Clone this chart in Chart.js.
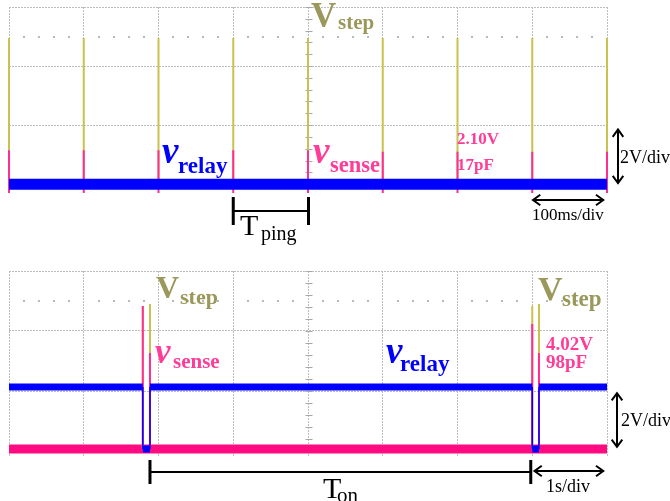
<!DOCTYPE html>
<html>
<head>
<meta charset="utf-8">
<script src="https://cdn.jsdelivr.net/npm/chart.js@4.4.1/dist/chart.umd.min.js"></script>
<style>
html, body { margin: 0; padding: 0; background: #fff; }
#wrap { position: relative; width: 670px; height: 501px; overflow: hidden; font-family: "Liberation Serif", "Times New Roman", serif; }
canvas { position: absolute; left: 0; }
.t { position: absolute; white-space: nowrap; line-height: 1; }
</style>
</head>
<body>
<div id="wrap">
  <canvas id="scopePing" width="670" height="250" style="top:0"></canvas>
  <canvas id="scopeOn" width="670" height="251" style="top:250px"></canvas>
</div>
<script>
// upper trace: 100 ms/div, 2 V/div
const pingTimes = [0, 100, 200, 300, 400, 500, 600, 700, 800];          // ms
const pingStepPeak = [4.95, 4.95, 4.95, 4.95, 4.95, 4.95, 4.95, 4.95, 4.95]; // V
const pingSensePeak = [1.15, 1.15, 1.15, 1.15, 1.15, 1.1, 1.1, 1.1, 1.1];   // V
const pingRelayLevel = 0;
const pingReadout = ['2.10V', '17pF'];

// lower trace: 1 s/div, 2 V/div
const onTimes = [1.79, 1.886, 7.0, 7.09];       // s
const onStepPeak = [4.83, 4.9, 4.83, 4.9];      // V
const onSensePeak = [4.83, 3.27, 4.23, 3.27];   // V
const onRelayHigh = 2.13;
const onRelayLow = 0.07;
const onSenseBase = 0.07;
const onReadout = ['4.02V', '98pF'];

const BLUE = '#0000ff';
const PINK = '#ff2e93';
const PINK_TXT = '#ff3c98';
const YEL = '#c9c24e';
const OLIVE = '#9a985a';

function spikes(times, peaks, base) {
  const out = [];
  times.forEach((t, i) => {
    out.push({ x: t, y: base }, { x: t, y: peaks[i] }, { x: t, y: null });
  });
  return out;
}

function relayBand(times, hi, lo, end) {
  const edges = [0, ...times, end];
  const out = [];
  for (let i = 0; i < edges.length - 1; i++) {
    const lvl = i % 2 === 0 ? hi : lo;
    out.push({ x: edges[i], y: lvl }, { x: edges[i + 1], y: lvl }, { x: edges[i + 1], y: null });
  }
  return out;
}

function line(ds) {
  return Object.assign({ showLine: true, pointRadius: 0, borderCapStyle: 'butt', spanGaps: false, fill: false, clip: 4 }, ds);
}

function arrowHead(ctx, x, y, dx, dy) {
  const len = 9, ang = Math.PI / 5, a = Math.atan2(dy, dx);
  ctx.beginPath();
  ctx.moveTo(x - len * Math.cos(a - ang), y - len * Math.sin(a - ang));
  ctx.lineTo(x, y);
  ctx.lineTo(x - len * Math.cos(a + ang), y - len * Math.sin(a + ang));
  ctx.stroke();
}

function dblArrow(ctx, x1, y1, x2, y2) {
  ctx.beginPath();
  ctx.moveTo(x1, y1);
  ctx.lineTo(x2, y2);
  ctx.stroke();
  arrowHead(ctx, x1, y1, x1 - x2, y1 - y2);
  arrowHead(ctx, x2, y2, x2 - x1, y2 - y1);
}

function bracket(ctx, x1, x2, y, half) {
  ctx.lineWidth = 3;
  ctx.beginPath();
  ctx.moveTo(x1, y - half); ctx.lineTo(x1, y + half);
  ctx.moveTo(x2, y - half); ctx.lineTo(x2, y + half);
  ctx.stroke();
  ctx.lineWidth = 2;
  ctx.beginPath();
  ctx.moveTo(x1, y); ctx.lineTo(x2, y);
  ctx.stroke();
}

// graticule extras: minor ticks on centre line and dotted row at 5 V
const graticule = {
  id: 'graticule',
  beforeDatasetsDraw(chart) {
    const { ctx, chartArea: a, scales: { x, y } } = chart;
    ctx.save();
    const cx = Math.round(x.getPixelForValue((x.min + x.max) / 2)) + 0.5;
    ctx.strokeStyle = '#a8a8a8';
    ctx.lineWidth = 1;
    ctx.beginPath();
    for (let v = y.max; v > y.min; v -= 0.4) {
      const py = Math.round(y.getPixelForValue(v)) + 0.5;
      ctx.moveTo(cx - 3, py); ctx.lineTo(cx + 4, py);
    }
    ctx.stroke();
    ctx.fillStyle = '#b8b8b8';
    const dy = Math.round(y.getPixelForValue(5));
    for (let i = 1; i < 40; i++) {
      if (i % 5 === 0) continue;
      const px = a.left + i * (a.right - a.left) / 40;
      ctx.fillRect(Math.round(px) - 1, dy - 1, 2, 2);
    }
    ctx.restore();
  }
};

function scopeOptions(xMax, yMin, pad) {
  return {
    responsive: false,
    animation: false,
    events: [],
    layout: { padding: pad },
    plugins: { legend: { display: false }, tooltip: { enabled: false } },
    scales: {
      x: {
        type: 'linear', min: 0, max: xMax,
        ticks: { display: false, stepSize: xMax / 8 },
        grid: { color: '#bdbdbd', lineWidth: 1, drawTicks: false },
        border: { display: false, dash: [2, 1] },
        afterFit(s) { s.height = 0; }
      },
      y: {
        type: 'linear', min: yMin, max: 6,
        ticks: { display: false, stepSize: 2, includeBounds: false },
        grid: { color: '#bdbdbd', lineWidth: 1, drawTicks: false },
        border: { display: false, dash: [2, 1] },
        afterFit(s) { s.width = 0; }
      }
    }
  };
}

// upper scope
const pingDecor = {
  id: 'pingDecor',
  afterDraw(chart) {
    const { ctx, chartArea: a, scales: { x, y } } = chart;
    ctx.save();
    ctx.strokeStyle = '#000';
    ctx.lineWidth = 2;
    dblArrow(ctx, a.right + 11, y.getPixelForValue(1.85), a.right + 11, y.getPixelForValue(0) - 1);
    dblArrow(ctx, x.getPixelForValue(701), a.bottom + 7, x.getPixelForValue(795), a.bottom + 7);
    bracket(ctx, x.getPixelForValue(300), x.getPixelForValue(400) + 0.5, a.bottom + 18, 14);
    ctx.restore();
  }
};

new Chart(document.getElementById('scopePing'), {
  type: 'scatter',
  data: {
    datasets: [
      line({ label: 'v_relay', data: [{ x: 0, y: pingRelayLevel }, { x: 800, y: pingRelayLevel }], borderColor: BLUE, borderWidth: 11 }),
      line({ label: 'v_sense', data: spikes(pingTimes, pingSensePeak, -0.3), borderColor: PINK, borderWidth: 2 }),
      line({ label: 'V_step', data: spikes(pingTimes, pingStepPeak, 0), borderColor: YEL, borderWidth: 2 })
    ]
  },
  options: scopeOptions(800, -0.3, { left: 9, right: 63, top: 7, bottom: 57 }),
  plugins: [graticule, pingDecor]
});

// lower scope
const onDecor = {
  id: 'onDecor',
  afterDraw(chart) {
    const { ctx, chartArea: a, scales: { x, y } } = chart;
    ctx.save();
    ctx.strokeStyle = '#000';
    ctx.lineWidth = 2;
    dblArrow(ctx, a.right + 10, y.getPixelForValue(onRelayHigh) + 6, a.right + 10, y.getPixelForValue(onSenseBase) - 2);
    dblArrow(ctx, x.getPixelForValue(7.03), a.bottom + 14, x.getPixelForValue(7.95), a.bottom + 14);
    bracket(ctx, x.getPixelForValue(onTimes[1]), x.getPixelForValue(6.98), a.bottom + 15, 12);
    ctx.restore();
  }
};

new Chart(document.getElementById('scopeOn'), {
  type: 'scatter',
  data: {
    datasets: [
      line({ label: 'v_relay edges', data: spikes(onTimes, onTimes.map(() => onRelayHigh), onRelayLow), borderColor: BLUE, borderWidth: 1.5 }),
      line({ label: 'v_relay', data: relayBand(onTimes, onRelayHigh, onRelayLow, 8), borderColor: BLUE, borderWidth: 7 }),
      line({ label: 'v_sense spikes', data: spikes(onTimes, onSensePeak, onSenseBase), borderColor: PINK, borderWidth: 2 }),
      line({ label: 'V_step', data: spikes(onTimes, onStepPeak, onSenseBase), borderColor: YEL, borderWidth: 2 }),
      line({ label: 'v_sense', data: [{ x: 0, y: onSenseBase }, { x: 8, y: onSenseBase }], borderColor: '#ff0a80', borderWidth: 9 })
    ]
  },
  options: scopeOptions(8, -0.2, { left: 9, right: 63, top: 21, bottom: 44 }),
  plugins: [graticule, onDecor]
});

// labels
const wrap = document.getElementById('wrap');
function txt(str, x, base, size, o) {
  const d = document.createElement('div');
  d.className = 't';
  d.textContent = str;
  d.style.left = x + 'px';
  d.style.top = (base - 0.8375 * size) + 'px';
  d.style.fontSize = size + 'px';
  d.style.fontWeight = o.bold ? 'bold' : 'normal';
  d.style.fontStyle = o.italic ? 'italic' : 'normal';
  d.style.color = o.color || '#000';
  wrap.appendChild(d);
}

txt('V', 311, 27, 35, { bold: true, color: OLIVE });
txt('step', 338, 30, 21, { bold: true, color: OLIVE });
txt('v', 162, 163, 37, { bold: true, italic: true, color: BLUE });
txt('relay', 178, 173, 23, { bold: true, color: BLUE });
txt('v', 313, 163, 37, { bold: true, italic: true, color: PINK_TXT });
txt('sense', 330, 173, 22.5, { bold: true, color: PINK_TXT });
txt(pingReadout[0], 457, 144, 17, { bold: true, color: PINK_TXT });
txt(pingReadout[1], 457, 170, 17, { bold: true, color: PINK_TXT });
txt('2V/div', 620, 163, 18, {});
txt('100ms/div', 532, 220, 17, {});
txt('T', 240, 235, 30, {});
txt('ping', 261, 240, 20, {});

txt('V', 156, 298, 32, { bold: true, color: OLIVE });
txt('step', 180, 304, 22, { bold: true, color: OLIVE });
txt('v', 155, 363, 35, { bold: true, italic: true, color: PINK_TXT });
txt('sense', 173, 369, 21, { bold: true, color: PINK_TXT });
txt('v', 386, 363, 37, { bold: true, italic: true, color: BLUE });
txt('relay', 400, 371, 23, { bold: true, color: BLUE });
txt('V', 538, 300, 34, { bold: true, color: OLIVE });
txt('step', 562, 306, 23, { bold: true, color: OLIVE });
txt(onReadout[0], 546, 350, 19, { bold: true, color: PINK_TXT });
txt(onReadout[1], 546, 368, 19, { bold: true, color: PINK_TXT });
txt('2V/div', 621, 426, 18, {});
txt('1s/div', 546, 492, 18, {});
txt('T', 323, 498, 30, {});
txt('on', 337, 503, 21, {});
</script>
</body>
</html>
